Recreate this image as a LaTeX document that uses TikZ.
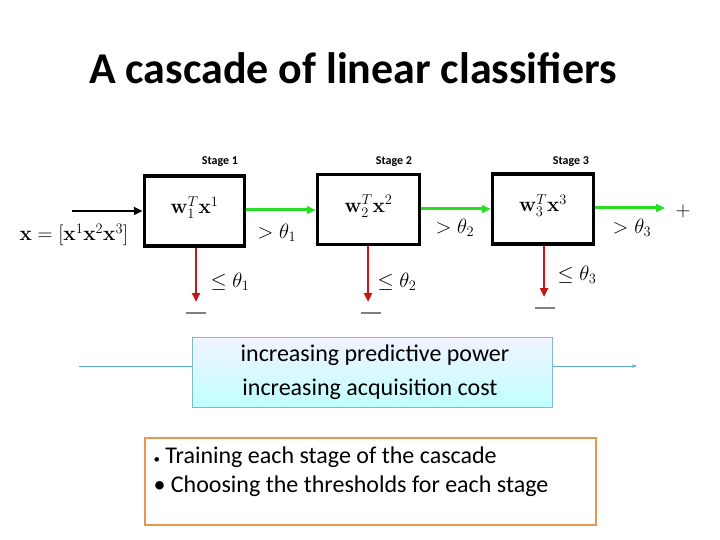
\documentclass[tikz,border=0pt]{standalone}
\usepackage[no-math]{fontspec}
\setmainfont{Carlito}
\usetikzlibrary{arrows.meta}
\definecolor{gr}{RGB}{40,220,40}
\definecolor{rd}{RGB}{200,20,20}
\definecolor{bl}{RGB}{90,170,200}
\definecolor{og}{RGB}{230,150,80}
\begin{document}
\begin{tikzpicture}[x=1pt,y=-1pt,
 stagebox/.style={draw,line width=3.5pt,minimum width=100pt,minimum height=70pt,anchor=center,text depth=12pt,font=\fontsize{21}{21}\selectfont},
 garrow/.style={gr,line width=3pt,-{Triangle[length=9pt,width=8pt]}},
 rarrow/.style={rd,line width=2.5pt,-{Triangle[length=9pt,width=8pt]}},
 mathlab/.style={font=\fontsize{21}{21}\selectfont},
 minus/.style={gray,line width=2pt},
 stlab/.style={font=\bfseries\fontsize{12}{12}\selectfont}]
\useasboundingbox (0,0) rectangle (720,540);
\node[font=\bfseries\fontsize{44}{44}\selectfont] (title) at (353,68) {A cascade of linear classifiers};
\node[stagebox] (b1) at (194.5,211) {$\mathbf{w}_1^T\mathbf{x}^1$};
\node[stagebox,minimum width=102pt] (b2) at (368.5,209.5) {$\mathbf{w}_2^T\mathbf{x}^2$};
\node[stagebox,minimum width=101pt] (b3) at (543,209) {$\mathbf{w}_3^T\mathbf{x}^3$};
\node[stlab] (s1) at (220,162) {Stage 1};
\node[stlab] (s2) at (394,162) {Stage 2};
\node[stlab] (s3) at (571,162) {Stage 3};
\coordinate (in) at (72,211);
\draw[line width=2.5pt,-{Triangle[length=9pt,width=8pt]}] (in) -- (b1.west|-in);
\begin{scope}
\clip (0,215) rectangle (138,260);
\node[mathlab,anchor=west] (xv) at (16,235) {$\mathbf{x}=[\mathbf{x}^1\mathbf{x}^2\mathbf{x}^3]$};
\end{scope}
\draw[garrow] (b1.east|-0,210) -- (b2.west|-0,210);
\draw[garrow] (b2.east|-0,209) -- (b3.west|-0,209);
\coordinate (pend) at (665,208);
\draw[garrow] (b3.east|-pend) -- (pend);
\node[mathlab] (plus) at (683,211) {$+$};
\coordinate (m1) at (196,302);
\coordinate (m2) at (368,302);
\coordinate (m3) at (544,297);
\draw[rarrow] (b1.south-|m1) -- (m1);
\draw[rarrow] (b2.south-|m2) -- (m2);
\draw[rarrow] (b3.south-|m3) -- (m3);
\draw[minus] (186,313) -- (206,313);
\draw[minus] (361,313) -- (381,313);
\draw[minus] (535,308) -- (555,308);
\node[mathlab] at (277,233) {$>\theta_1$};
\node[mathlab] at (230,282) {$\leq\theta_1$};
\node[mathlab] at (455,228) {$>\theta_2$};
\node[mathlab] at (397,282) {$\leq\theta_2$};
\node[mathlab] at (632,228) {$>\theta_3$};
\node[mathlab] at (577,275) {$\leq\theta_3$};
\coordinate (la) at (79,366);
\coordinate (lb) at (637,366);
\draw[bl,line width=1pt,-{Stealth[length=5pt]}] (la) -- (lb);
\node[draw=bl!80,top color=blue!5,bottom color=cyan!25,minimum width=360pt,minimum height=70pt,inner sep=0pt] (pb) at (372,372) {};
\node[font=\fontsize{24}{24}\selectfont] at (375,355) {increasing predictive power};
\node[font=\fontsize{24}{24}\selectfont] at (370,389) {increasing acquisition cost};
\node[draw=og,line width=1.5pt,minimum width=451pt,minimum height=87pt] (ob) at (370.5,481.5) {};
\node[anchor=west,font=\fontsize{24}{24}\selectfont] at (150,457) {{\fontsize{13}{13}\selectfont•} Training each stage of the cascade};
\node[anchor=west,font=\fontsize{24}{24}\selectfont] at (150,486) {• Choosing the thresholds for each stage};
\end{tikzpicture}
\end{document}
